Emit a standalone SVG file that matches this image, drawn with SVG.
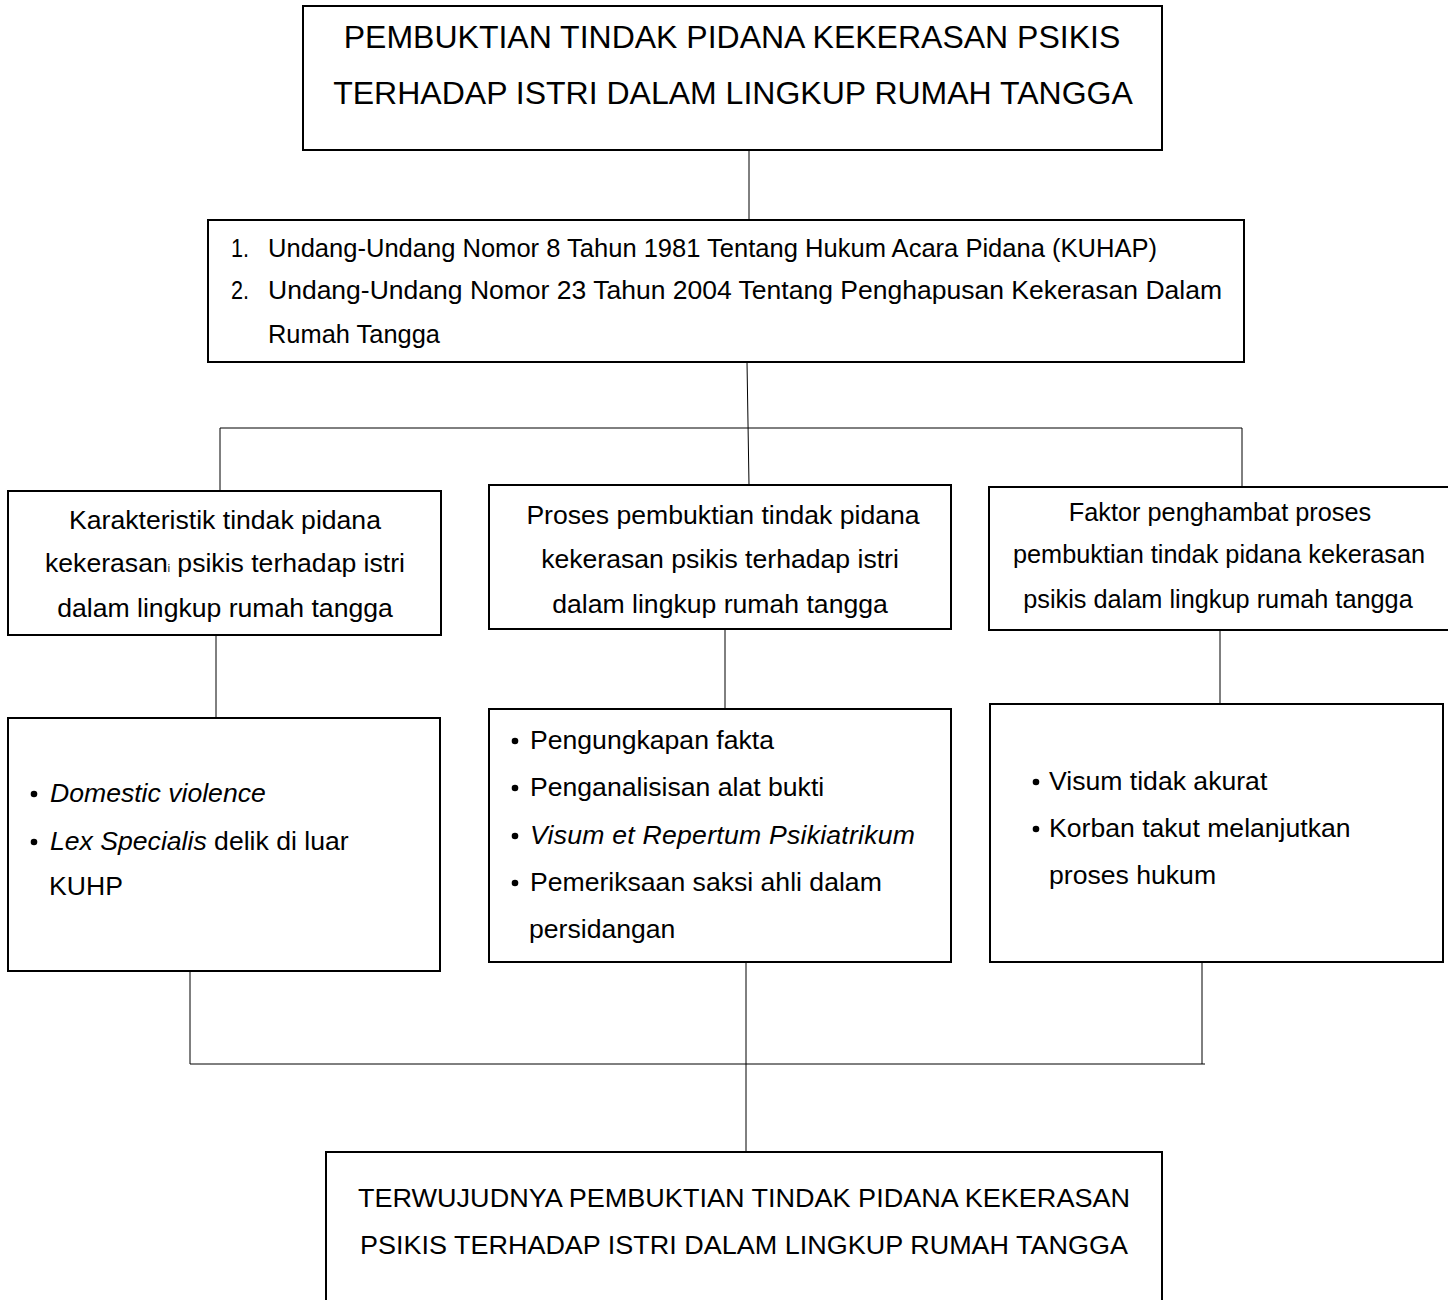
<svg xmlns="http://www.w3.org/2000/svg" width="1448" height="1300" viewBox="0 0 1448 1300">
<style>
.box{fill:#fff;stroke:#000;stroke-width:2}
.ln{stroke:#000;stroke-width:1;fill:none}
text{font-family:"Liberation Sans",Arial,sans-serif;fill:#000}
.t32{font-size:32px}
.t26{font-size:26.6px}
.t25{font-size:25.3px}
.n26{font-size:26px}
.c{text-anchor:middle}
.i{font-style:italic}
</style>
<rect width="1448" height="1300" fill="#fff"/>
<g id="connectors">
<line class="ln" x1="749" y1="150" x2="749" y2="220"/>
<line class="ln" x1="747" y1="362" x2="749" y2="485"/>
<line class="ln" x1="220" y1="428" x2="1242" y2="428"/>
<line class="ln" x1="220" y1="428" x2="220" y2="491"/>
<line class="ln" x1="1242" y1="428" x2="1242" y2="487"/>
<line class="ln" x1="216" y1="635" x2="216" y2="718"/>
<line class="ln" x1="725" y1="629" x2="725" y2="709"/>
<line class="ln" x1="1220" y1="630" x2="1220" y2="704"/>
<line class="ln" x1="190" y1="971" x2="190" y2="1064"/>
<line class="ln" x1="746" y1="962" x2="746" y2="1152"/>
<line class="ln" x1="1202" y1="962" x2="1202" y2="1064"/>
<line class="ln" x1="190" y1="1064" x2="1205" y2="1064"/>
</g>
<g id="title">
<rect class="box" x="303" y="6" width="859" height="144"/>
<text class="t32 c" x="732" y="48">PEMBUKTIAN TINDAK PIDANA KEKERASAN PSIKIS</text>
<text class="t32 c" x="733" y="104">TERHADAP ISTRI DALAM LINGKUP RUMAH TANGGA</text>
</g>
<g id="dasar-hukum">
<rect class="box" x="208" y="220" width="1036" height="142"/>
<text class="n26" x="231" y="257" textLength="18" lengthAdjust="spacingAndGlyphs">1.</text>
<text class="n26" x="268" y="257" textLength="889" lengthAdjust="spacingAndGlyphs">Undang-Undang Nomor 8 Tahun 1981 Tentang Hukum Acara Pidana (KUHAP)</text>
<text class="n26" x="231" y="299" textLength="18" lengthAdjust="spacingAndGlyphs">2.</text>
<text class="n26" x="268" y="299" textLength="954" lengthAdjust="spacingAndGlyphs">Undang-Undang Nomor 23 Tahun 2004 Tentang Penghapusan Kekerasan Dalam</text>
<text class="n26" x="268" y="343" textLength="172" lengthAdjust="spacingAndGlyphs">Rumah Tangga</text>
</g>
<g id="karakteristik">
<rect class="box" x="8" y="491" width="433" height="144"/>
<text class="t26 c" x="225" y="529">Karakteristik tindak pidana</text>
<text class="t26 c" x="225" y="572">kekerasan<tspan font-size="10">i</tspan> psikis terhadap istri</text>
<text class="t26 c" x="225" y="617">dalam lingkup rumah tangga</text>
</g>
<g id="proses">
<rect class="box" x="489" y="485" width="462" height="144"/>
<text class="t26 c" x="723" y="524">Proses pembuktian tindak pidana</text>
<text class="t26 c" x="720" y="568">kekerasan psikis terhadap istri</text>
<text class="t26 c" x="720" y="613">dalam lingkup rumah tangga</text>
</g>
<g id="faktor">
<rect class="box" x="989" y="487" width="470" height="143"/>
<text class="t25 c" x="1220" y="521">Faktor penghambat proses</text>
<text class="t25 c" x="1219" y="563">pembuktian tindak pidana kekerasan</text>
<text class="t25 c" x="1218" y="608">psikis dalam lingkup rumah tangga</text>
</g>
<g id="karakteristik-isi">
<rect class="box" x="8" y="718" width="432" height="253"/>
<circle cx="34" cy="794" r="3.3"/>
<text class="t26 i" x="50" y="802">Domestic violence</text>
<circle cx="34" cy="842" r="3.3"/>
<text class="t26" x="50" y="850"><tspan class="i">Lex Specialis</tspan> delik di luar</text>
<text class="t26" x="49" y="895">KUHP</text>
</g>
<g id="proses-isi">
<rect class="box" x="489" y="709" width="462" height="253"/>
<circle cx="515" cy="741" r="3.3"/>
<text class="t26" x="530" y="749">Pengungkapan fakta</text>
<circle cx="515" cy="788" r="3.3"/>
<text class="t26" x="530" y="796">Penganalisisan alat bukti</text>
<circle cx="515" cy="836" r="3.3"/>
<text class="t26 i" x="530" y="844" textLength="385" lengthAdjust="spacing">Visum et Repertum Psikiatrikum</text>
<circle cx="515" cy="883" r="3.3"/>
<text class="t26" x="530" y="891">Pemeriksaan saksi ahli dalam</text>
<text class="t26" x="529" y="938">persidangan</text>
</g>
<g id="faktor-isi">
<rect class="box" x="990" y="704" width="453" height="258"/>
<circle cx="1036" cy="782" r="3.3"/>
<text class="t26" x="1049" y="790">Visum tidak akurat</text>
<circle cx="1036" cy="829" r="3.3"/>
<text class="t26" x="1049" y="837">Korban takut melanjutkan</text>
<text class="t26" x="1049" y="884">proses hukum</text>
</g>
<g id="kesimpulan">
<rect class="box" x="326" y="1152" width="836" height="160"/>
<text class="n26 c" x="744" y="1207" textLength="772" lengthAdjust="spacingAndGlyphs">TERWUJUDNYA PEMBUKTIAN TINDAK PIDANA KEKERASAN</text>
<text class="n26 c" x="744" y="1254" textLength="768" lengthAdjust="spacingAndGlyphs">PSIKIS TERHADAP ISTRI DALAM LINGKUP RUMAH TANGGA</text>
</g>
</svg>
